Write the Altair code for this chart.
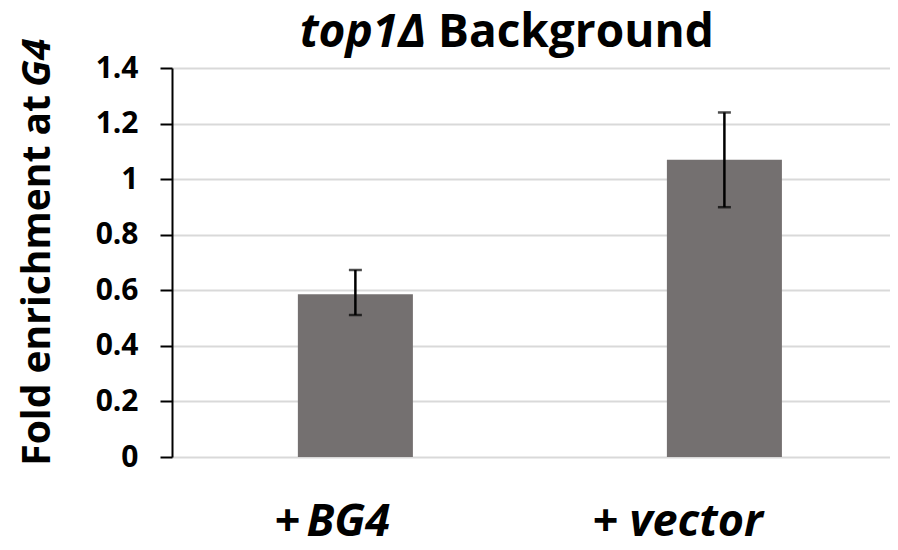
import altair as alt
import pandas as pd

# ---- data ----
groups = ["+BG4", "+ vector"]
label_prefix = ["+", "+"]
label_name = ["BG4", "vector"]
values = [0.586, 1.07]
err_low = [0.511, 0.899]
err_high = [0.673, 1.24]
y_ticks = [0, 0.2, 0.4, 0.6, 0.8, 1.0, 1.2, 1.4]
title_italic = ["top1Δ"]
title_rest = ["Background"]
ytitle_main = ["Fold enrichment at"]
ytitle_italic = ["G4"]

df = pd.DataFrame({
    "group": groups,
    "prefix": label_prefix,
    "name": label_name,
    "value": values,
    "lo": err_low,
    "hi": err_high,
})

FONT = "Open Sans"
W, H = 718, 389

xscale = alt.Scale(domain=groups, paddingInner=0.6883, paddingOuter=0.317,
                   align=0.538, round=False)
yscale = alt.Scale(domain=[0, 1.4], nice=False)

base = alt.Chart(df)

bars = base.mark_bar(color="#747070").encode(
    x=alt.X("group:N", scale=xscale, axis=None, sort=groups),
    y=alt.Y("value:Q", scale=yscale,
            axis=alt.Axis(values=y_ticks, format="~g", title=None,
                          grid=True, gridColor="#d9d9d9", gridWidth=2,
                          domainColor="black", domainWidth=2,
                          tickColor="black", tickWidth=2, tickSize=12,
                          labelPadding=22, labelFont=FONT, labelFontSize=30,
                          labelFontWeight="bold", labelColor="black")),
)

rule = base.mark_rule(color="black", strokeWidth=2.5).encode(
    x=alt.X("group:N", scale=xscale, sort=groups),
    y="lo:Q",
    y2="hi:Q",
)
cap_hi = base.mark_tick(color="black", thickness=2.5, size=13, orient="horizontal").encode(
    x=alt.X("group:N", scale=xscale, sort=groups),
    y="hi:Q",
)
cap_lo = base.mark_tick(color="black", thickness=2.5, size=13, orient="horizontal").encode(
    x=alt.X("group:N", scale=xscale, sort=groups),
    y="lo:Q",
)

# x labels (upright "+" and italic name)
def xlabel(group, dx_prefix, dx_name):
    sub = base.transform_filter(alt.datum.group == group)
    a = sub.mark_text(font=FONT, fontSize=45, fontWeight="bold", align="right",
                      baseline="alphabetic", dx=dx_prefix, color="black").encode(
        x=alt.X("group:N", scale=xscale, sort=groups),
        y=alt.value(H + 79),
        text="prefix:N",
    )
    b = sub.mark_text(font=FONT, fontSize=45, fontWeight="bold", fontStyle="italic",
                      align="left", baseline="alphabetic", dx=dx_name, color="black").encode(
        x=alt.X("group:N", scale=xscale, sort=groups),
        y=alt.value(H + 79),
        text="name:N",
    )
    return a + b

xl1 = xlabel(groups[0], -55, -49)
xl2 = xlabel(groups[1], -106, -95)

# title
t1 = alt.Chart(pd.DataFrame({"t": title_italic})).mark_text(
    font=FONT, fontSize=46, fontWeight="bold", fontStyle="italic",
    align="right", baseline="alphabetic", color="black").encode(
    x=alt.value(254), y=alt.value(-21), text="t:N")
t2 = alt.Chart(pd.DataFrame({"t": title_rest})).mark_text(
    font=FONT, fontSize=46, fontWeight="bold",
    align="left", baseline="alphabetic", color="black").encode(
    x=alt.value(266), y=alt.value(-21), text="t:N")

# y axis title
ya = alt.Chart(pd.DataFrame({"t": ytitle_main})).mark_text(
    font=FONT, fontSize=39, fontWeight="bold", angle=270,
    align="right", baseline="alphabetic", color="black").encode(
    x=alt.value(-122), y=alt.value(27), text="t:N")
yb = alt.Chart(pd.DataFrame({"t": ytitle_italic})).mark_text(
    font=FONT, fontSize=39, fontWeight="bold", fontStyle="italic", angle=270,
    align="left", baseline="alphabetic", color="black").encode(
    x=alt.value(-122), y=alt.value(19), text="t:N")

chart = alt.layer(bars, rule, cap_hi, cap_lo, xl1, xl2, t1, t2, ya, yb).properties(
    width=W, height=H,
    autosize=alt.AutoSizeParams(type="none"),
    padding={"left": 164, "top": 60, "right": 0, "bottom": 85},
).configure_view(stroke=None)

chart.save("out.html", embed_options={"renderer": "svg", "actions": False})
